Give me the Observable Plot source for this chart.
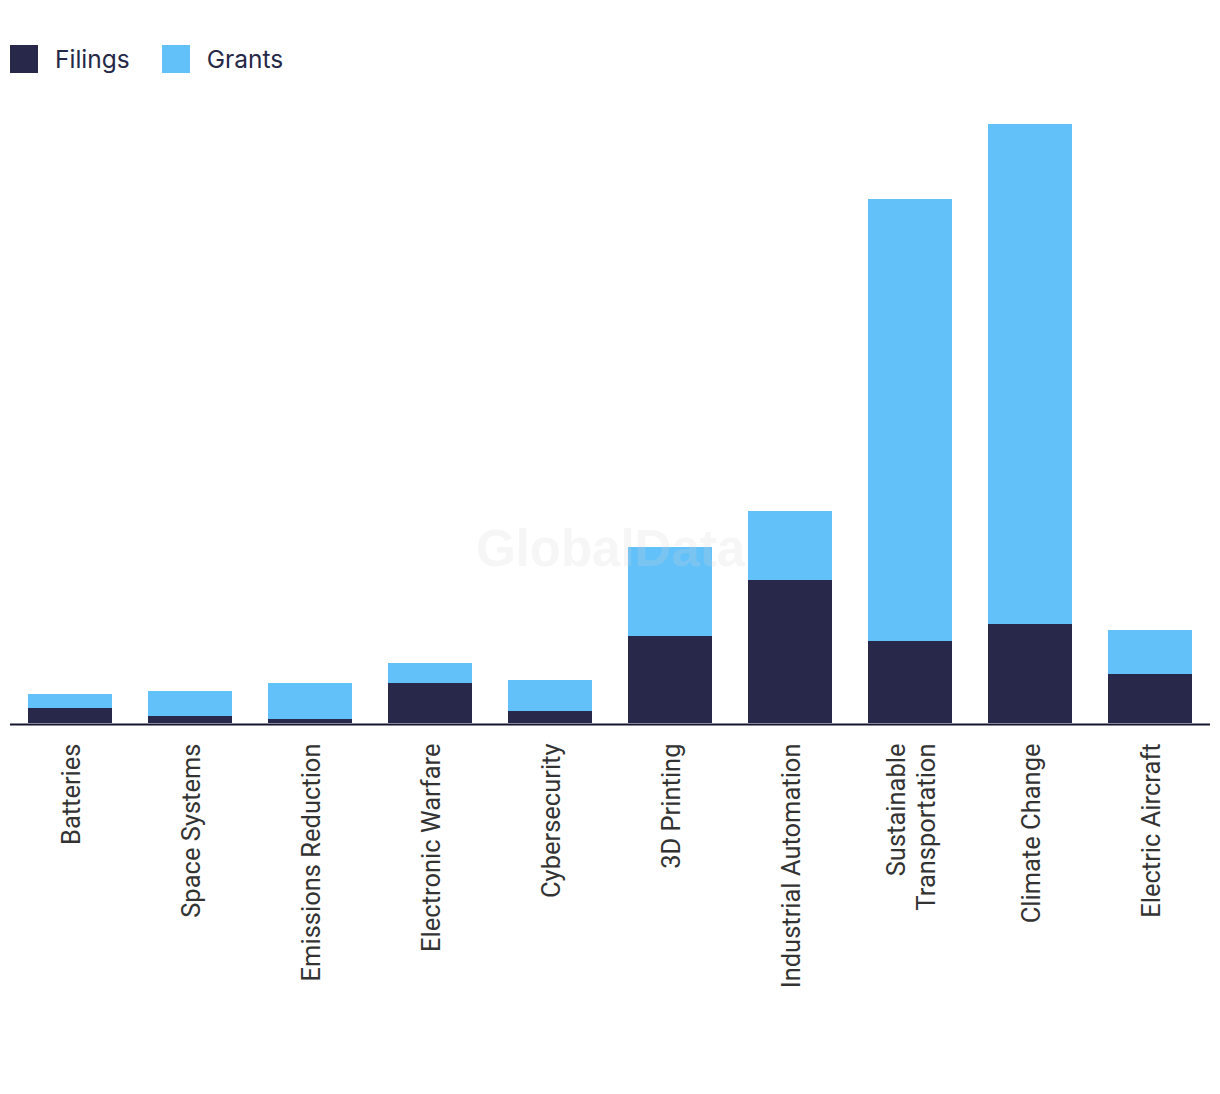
<!DOCTYPE html>
<html>
<head>
<meta charset="utf-8">
<script src="https://cdn.jsdelivr.net/npm/d3@7"></script>
<script src="https://cdn.jsdelivr.net/npm/@observablehq/plot@0.6"></script>
<style>
  html, body { margin: 0; padding: 0; background: #ffffff; }
  #legend { height: 100px; box-sizing: border-box; padding: 45px 0 0 10px; display: flex; align-items: flex-start; font-family: "Inter", "Liberation Sans", sans-serif; font-size: 24.5px; color: #262848; }
  #legend .item { display: flex; align-items: center; height: 28px; margin-right: 32px; }
  #legend .sw { width: 28px; height: 28px; margin-right: 17px; }
</style>
</head>
<body>
<div id="legend"></div>
<div id="chart"></div>
<script>
const categories = ["Batteries", "Space Systems", "Emissions Reduction", "Electronic Warfare", "Cybersecurity", "3D Printing", "Industrial Automation", "Sustainable Transportation", "Climate Change", "Electric Aircraft"];
const tickLabels = ["Batteries", "Space Systems", "Emissions Reduction", "Electronic Warfare", "Cybersecurity", "3D Printing", "Industrial Automation", "Sustainable\nTransportation", "Climate Change", "Electric Aircraft"];
const seriesNames = ["Filings", "Grants"];
const seriesColors = ["#27284a", "#63c1f9"];
const filings = [15, 7, 4, 40, 12, 87, 143, 82, 99, 49];
const grants = [14, 25, 36, 20, 31, 89, 69, 442, 500, 44];

const rows = [];
categories.forEach((c, i) => {
  rows.push({category: c, series: "Filings", value: filings[i]});
  rows.push({category: c, series: "Grants", value: grants[i]});
});

const legend = document.getElementById("legend");
seriesNames.forEach((s, i) => {
  const it = document.createElement("div");
  it.className = "item";
  const sw = document.createElement("div");
  sw.className = "sw";
  sw.style.background = seriesColors[i];
  const t = document.createElement("span");
  t.textContent = s;
  it.appendChild(sw); it.appendChild(t);
  legend.appendChild(it);
});

const chart = Plot.plot({
  width: 1220,
  height: 994,
  marginLeft: 10,
  marginRight: 10,
  marginTop: 23,
  marginBottom: 371,
  style: {fontFamily: "Roboto, 'Liberation Sans', Arial, sans-serif", background: "#ffffff"},
  x: {domain: categories, paddingInner: 0.3, paddingOuter: 0.15, label: null},
  y: {domain: [0, 600], axis: null},
  color: {domain: seriesNames, range: seriesColors},
  marks: [
    Plot.barY(rows, Plot.stackY({x: "category", y: "value", fill: "series", order: null})),
    Plot.ruleY([0], {stroke: "#151530", strokeWidth: 2, dy: 1}),
    Plot.text(["GlobalData"], {frameAnchor: "middle", dy: 126, fontSize: 51, fontWeight: "bold", fill: "#d0d0d0", fillOpacity: 0.2, fontFamily: "'Liberation Sans', Arial, sans-serif"}),
    Plot.axisX({tickRotate: -90, tickSize: 0, tickPadding: 20, fontSize: 25.5, fill: "#333333", lineHeight: 1.18, tickFormat: (d) => tickLabels[categories.indexOf(d)], label: null})
  ]
});
document.getElementById("chart").appendChild(chart);
</script>
</body>
</html>
